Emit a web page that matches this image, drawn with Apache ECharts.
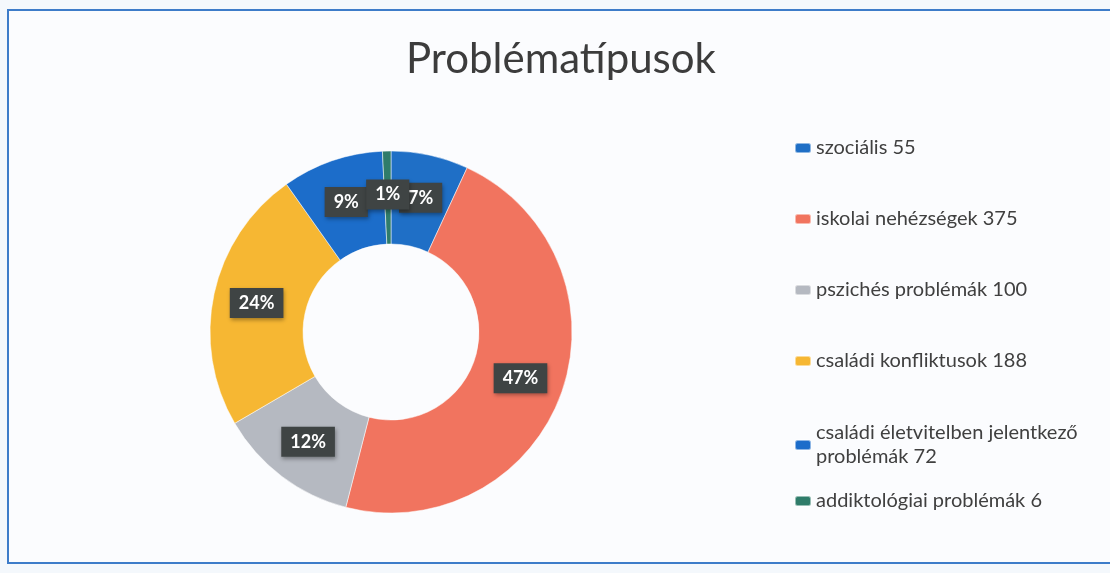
<!DOCTYPE html>
<html>
<head>
<meta charset="utf-8">
<title>Problématípusok</title>
<script src="https://cdn.jsdelivr.net/npm/echarts@6/dist/echarts.min.js"></script>
<style>
  html, body { margin: 0; padding: 0; background: #f4f8fc; }
  #container { width: 1110px; height: 573px; }
</style>
</head>
<body>
<div id="container"></div>
<script>
  // kategóriák és esetszámok (óramutató járásával, felülről)
  let categories = ['szociális', 'iskolai nehézségek', 'pszichés problémák', 'családi konfliktusok',
    'családi életvitelben jelentkező problémák', 'addiktológiai problémák'];
  let counts = [55, 375, 100, 188, 72, 6];
  let colors = ['#1f6fc6', '#f1745f', '#b5b9c1', '#f6b733', '#1c6dca', '#2f7c6a'];

  let dom = document.getElementById('container');
  let myChart = echarts.init(dom);

  let seriesData = [];
  categories.forEach((name, i) => {
    seriesData.push({name: name, value: counts[i], itemStyle: {color: colors[i]}});
  });

  let legendText = {
    color: '#404040',
    fontSize: 20,
    fontFamily: 'Lato',
    width: 305,
    overflow: 'break',
    lineHeight: 24
  };
  let legendFormatter = function (name) {
    return name + ' ' + counts[categories.indexOf(name)];
  };

  let option = {
    backgroundColor: '#f4f8fc',
    title: {
      text: 'Problématípusok',
      left: 401,
      top: 33,
      textStyle: {
        color: '#3c3c3c',
        fontSize: 42,
        fontWeight: 'normal',
        fontFamily: 'Lato'
      }
    },
    graphic: [{
      type: 'rect',
      shape: {x: 8, y: 10, width: 1110, height: 553},
      style: {fill: '#fbfcfe', stroke: '#3d7cc9', lineWidth: 2},
      z: -10
    }],
    legend: [{
      orient: 'vertical',
      left: 789,
      top: 131,
      itemGap: 47,
      itemWidth: 16,
      itemHeight: 10,
      icon: 'roundRect',
      data: categories.slice(0, 4),
      formatter: legendFormatter,
      textStyle: legendText
    }, {
      orient: 'vertical',
      left: 789,
      top: 416,
      itemGap: 20,
      itemWidth: 16,
      itemHeight: 10,
      icon: 'roundRect',
      data: categories.slice(4),
      formatter: legendFormatter,
      textStyle: legendText
    }],
    series: [{
      name: 'Problématípusok',
      type: 'pie',
      center: [391, 332],
      radius: [88, 181],
      startAngle: 90,
      clockwise: true,
      percentPrecision: 0,
      avoidLabelOverlap: false,
      labelLayout: {hideOverlap: false},
      itemStyle: {
        borderColor: 'rgba(255,255,255,0.5)',
        borderWidth: 1
      },
      label: {
        show: true,
        position: 'inside',
        formatter: '{d}%',
        color: '#ffffff',
        fontSize: 18,
        fontWeight: 'bold',
        fontFamily: 'Lato',
        backgroundColor: '#3f4444',
        padding: [7, 9, 5, 9],
        shadowColor: 'rgba(0,0,0,0.35)',
        shadowBlur: 4,
        shadowOffsetX: 1,
        shadowOffsetY: 2
      },
      labelLine: {show: false},
      data: seriesData
    }]
  };

  myChart.setOption(option, true);
</script>
</body>
</html>
